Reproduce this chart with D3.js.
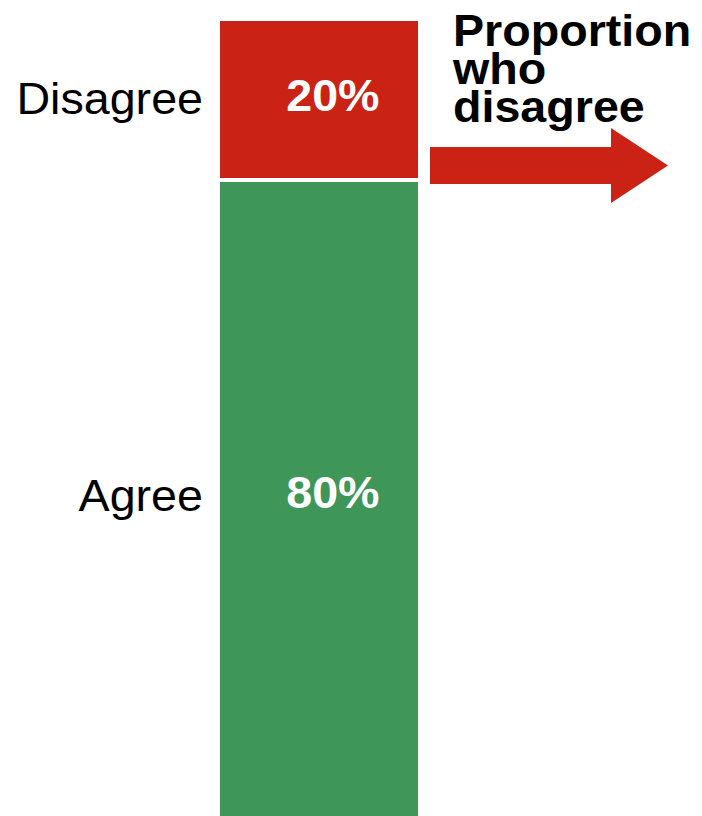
<!DOCTYPE html>
<html>
<head>
<meta charset="utf-8">
<script src="https://cdn.jsdelivr.net/npm/d3@7"></script>
<style>
  html, body { margin: 0; padding: 0; background: #ffffff; }
  svg { display: block; }
  text { font-family: "Liberation Sans", Arial, Helvetica, sans-serif; }
</style>
</head>
<body>
<svg id="chart" width="702" height="816"></svg>
<script>
// Stacked responses, top to bottom
const categories = ["Disagree", "Agree"];
const values = [20, 80];
const valueLabels = ["20%", "80%"];
const colors = ["#cb2216", "#3e9659"];
const titleLines = ["Proportion", "who", "disagree"];

const W = 702, H = 816;
const svg = d3.select("#chart");

const fontSize = 44;
const stretch = 1.06;

// Vertical scale covering the full 100% stack
const y = d3.scaleLinear().domain([0, 100]).range([21, 816]);
// Single column band
const x = d3.scaleBand().domain(["all"]).range([220, 418]).padding(0);

// cumulative stacking
let acc = 0;
const segs = categories.map((c, i) => {
  const s = { cat: c, v: values[i], label: valueLabels[i], color: colors[i], y0: acc, y1: acc + values[i], i };
  acc += values[i];
  return s;
});

const gap = 2; // white divider half-width between segments

svg.selectAll("rect.seg")
  .data(segs)
  .join("rect")
  .attr("class", "seg")
  .attr("x", x("all"))
  .attr("width", x.bandwidth())
  .attr("y", d => y(d.y0) + (d.i > 0 ? gap : 0))
  .attr("height", d => y(d.y1) - y(d.y0) - (d.i > 0 ? gap : 0) - (d.i < segs.length - 1 ? gap : 0))
  .attr("fill", d => d.color);

// value labels inside the bar
svg.selectAll("text.val")
  .data(segs)
  .join("text")
  .attr("class", "val")
  .attr("transform", d => `translate(${x("all") + x.bandwidth() * 0.57},${(y(d.y0) + y(d.y1)) / 2 + 10}) scale(${stretch},1)`)
  .attr("text-anchor", "middle")
  .attr("font-size", fontSize)
  .attr("font-weight", "bold")
  .attr("fill", "#ffffff")
  .text(d => d.label);

// category labels to the left
svg.selectAll("text.cat")
  .data(segs)
  .join("text")
  .attr("class", "cat")
  .attr("transform", d => `translate(${x("all") - 17},${(y(d.y0) + y(d.y1)) / 2 + 13}) scale(${stretch},1)`)
  .attr("text-anchor", "end")
  .attr("font-size", fontSize)
  .attr("fill", "#000000")
  .text(d => d.cat);

// annotation arrow pointing right
const arrow = [[430, 147], [611, 147], [611, 128], [668, 165.5], [611, 203], [611, 184], [430, 184]];
svg.append("path")
  .attr("d", d3.line()(arrow) + "Z")
  .attr("fill", colors[0]);

// annotation title
svg.selectAll("text.title")
  .data(titleLines)
  .join("text")
  .attr("class", "title")
  .attr("transform", (d, i) => `translate(453,${46 + i * 38}) scale(${stretch},1)`)
  .attr("font-size", fontSize)
  .attr("font-weight", "bold")
  .attr("fill", "#000000")
  .text(d => d);
</script>
</body>
</html>
